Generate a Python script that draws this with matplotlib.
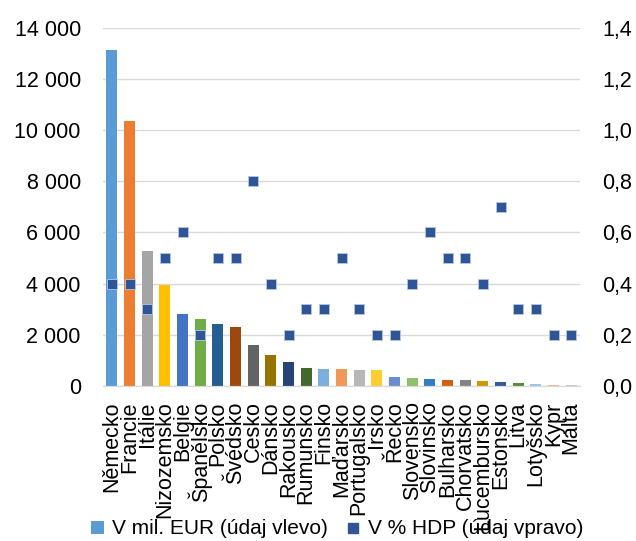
import matplotlib
matplotlib.use("Agg")
import matplotlib.pyplot as plt
from matplotlib.patches import Patch
from matplotlib.lines import Line2D
from matplotlib.ticker import FuncFormatter, MultipleLocator

plt.rcParams['font.family'] = ['Liberation Sans', 'DejaVu Sans']

countries = ["Německo", "Francie", "Itálie", "Nizozemsko", "Belgie", "Španělsko",
             "Polsko", "Švédsko", "Česko", "Dánsko", "Rakousko", "Rumunsko",
             "Finsko", "Maďarsko", "Portugalsko", "Irsko", "Řecko", "Slovensko",
             "Slovinsko", "Bulharsko", "Chorvatsko", "Lucembursko", "Estonsko",
             "Litva", "Lotyšsko", "Kypr", "Malta"]
eur_mil = [13130, 10350, 5280, 3950, 2810, 2620, 2420, 2310, 1600, 1210, 940, 700,
           670, 665, 630, 625, 350, 310, 270, 235, 230, 195, 160, 120, 80, 40, 20]
pct_gdp = [0.4, 0.4, 0.3, 0.5, 0.6, 0.2, 0.5, 0.5, 0.8, 0.4, 0.2, 0.3, 0.3, 0.5,
           0.3, 0.2, 0.2, 0.4, 0.6, 0.5, 0.5, 0.4, 0.7, 0.3, 0.3, 0.2, 0.2]
bar_colors = ["#5B9BD5", "#ED7D31", "#A5A5A5", "#FFC000", "#4472C4", "#70AD47",
              "#255E91", "#9E480E", "#636363", "#997300", "#264478", "#43682B",
              "#7CAFDD", "#F1975A", "#B7B7B7", "#FFCD33", "#698ED0", "#8CC168",
              "#327DC2", "#D26012", "#848484", "#CC9A00", "#335AA1", "#5A8A39",
              "#9DC3E6", "#F4B183", "#C9C9C9"]
marker_color = "#2F5597"
legend_labels = ["V mil. EUR (údaj vlevo)", "V % HDP (údaj vpravo)"]

fig = plt.figure(figsize=(6.36, 5.41), dpi=100)
ax = fig.add_axes([0.162, 0.2865, 0.75, 0.6625])
ax2 = ax.twinx()

x = list(range(len(countries)))
ax.bar(x, eur_mil, width=0.62, color=bar_colors, zorder=2)
ax2.scatter(x, pct_gdp, marker="s", s=52, color=marker_color,
            edgecolors="#B4C7E7", linewidths=0.6, zorder=3)

ax.set_xlim(-0.5, len(countries) - 0.5)
ax.set_ylim(0, 14000)
ax2.set_ylim(0, 1.4)
ax.yaxis.set_major_locator(MultipleLocator(2000))
ax2.yaxis.set_major_locator(MultipleLocator(0.2))
ax.yaxis.set_major_formatter(FuncFormatter(lambda v, p: f"{v:,.0f}".replace(",", " ")))
ax2.yaxis.set_major_formatter(FuncFormatter(lambda v, p: f"{v:.1f}".replace(".", ",")))

ax.grid(axis="y", color="#D9D9D9", linewidth=1.0, zorder=0)
ax.set_axisbelow(True)
for a in (ax, ax2):
    for s in ("top", "left", "right"):
        a.spines[s].set_visible(False)
    a.spines["bottom"].set_color("#D9D9D9")
    a.tick_params(axis="both", length=0, labelsize=15.5, colors="black")
ax.tick_params(axis="y", pad=16)
ax2.tick_params(axis="y", pad=16)

ax.set_xticks(x)
ax.set_xticklabels(countries, rotation=90, fontsize=15.5, va="top", ha="center")
ax.tick_params(axis="x", pad=11)

handles = [Patch(facecolor=bar_colors[0], edgecolor="none"),
           Line2D([], [], marker="s", linestyle="none", markersize=7,
                  color=marker_color)]
fig.legend(handles, legend_labels, loc="lower center", ncol=2, frameon=False,
           fontsize=15, handlelength=0.6, handleheight=0.6, handletextpad=0.4,
           columnspacing=0.9, bbox_to_anchor=(0.53, -0.03))

fig.savefig("out.png", dpi=100)
